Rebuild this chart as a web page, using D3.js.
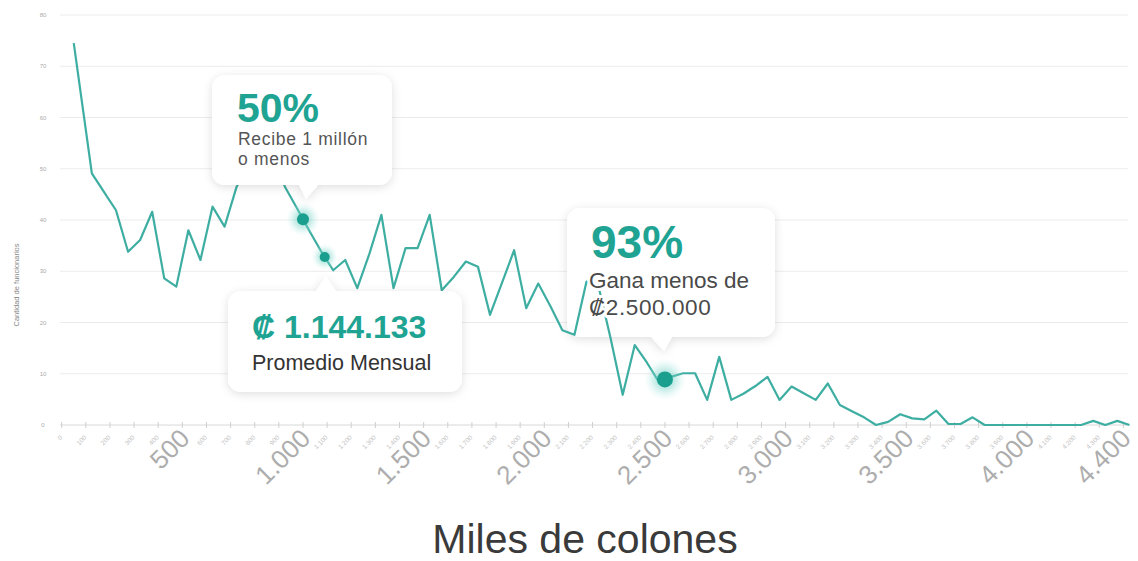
<!DOCTYPE html>
<html><head><meta charset="utf-8">
<script src="https://cdn.jsdelivr.net/npm/d3@7"></script>
<style>
html,body{margin:0;padding:0;background:#fff;}
svg{display:block;font-family:"Liberation Sans","DejaVu Sans",Arial,sans-serif;}
</style></head>
<body>
<svg id="c" width="1138" height="561"></svg>
<script>
// Salary (thousands of colones, bin midpoints) and number of employees
const salaries = [50,125,175,225,275,325,375,425,475,525,575,625,675,725,775,825,875,925,975,1025,
1075,1125,1175,1225,1275,1325,1375,1425,1475,1525,1575,1625,1675,1725,1775,1825,1875,1925,1975,2025,
2075,2125,2175,2225,2275,2325,2375,2425,2475,2525,2575,2625,2675,2725,2775,2825,2875,2925,2975,3025,
3075,3125,3175,3225,3275,3325,3375,3425,3475,3525,3575,3625,3675,3725,3775,3825,3875,3925,3975,4025,
4075,4125,4175,4225,4275,4325,4375,4425];
const employees = [74.5,49.1,45.5,41.9,33.8,36.1,41.6,28.6,27.0,38.0,32.2,42.6,38.7,46.5,51,54,52,46.5,42.3,38.0,
33.9,30.2,32.2,26.7,33.4,41.0,26.7,34.5,34.5,41.0,26.3,28.9,31.9,30.9,21.5,27.8,34.1,22.8,27.6,23.2,
18.5,17.6,28,27,16.9,5.9,15.6,12.2,8.4,9.4,10.1,10.1,4.9,13.3,4.9,6.1,7.6,9.4,4.9,7.5,
6.2,4.9,8.1,3.9,2.7,1.5,0,0.6,2.1,1.3,1.1,2.8,0.2,0.2,1.5,0,0,0,0,0,
0,0,0,0,0.8,0,0.8,0];
const yTicks = [0,10,20,30,40,50,60,70,80];
const xTicks = d3.range(0, 4401, 100);
const bigLabels = [500,1000,1500,2000,2500,3000,3500,4000,4400];
const markers = [1000, 1090, 2500];
const fmt = v => d3.format(",")(v).replace(/,/g, ".");

const svg = d3.select("#c");
const x = d3.scaleLinear().domain([0,4400]).range([61.7,1123.4]);
const y = d3.scaleLinear().domain([0,80]).range([425,15]);
const teal = "#1fa393";

const defs = svg.append("defs");
const f = defs.append("filter").attr("id","sh").attr("x","-20%").attr("y","-20%").attr("width","140%").attr("height","150%");
f.append("feDropShadow").attr("dx",0).attr("dy",2).attr("stdDeviation",5).attr("flood-color","#000").attr("flood-opacity",0.13);
const rg = defs.append("radialGradient").attr("id","glow");
rg.append("stop").attr("offset","0%").attr("stop-color","#3bbfb0").attr("stop-opacity",0.7);
rg.append("stop").attr("offset","55%").attr("stop-color","#7fd6cc").attr("stop-opacity",0.35);
rg.append("stop").attr("offset","100%").attr("stop-color","#bfeee8").attr("stop-opacity",0);

// gridlines
svg.append("g").selectAll("line").data(yTicks.filter(d=>d>0)).join("line")
  .attr("x1",60).attr("x2",1128).attr("y1",d=>y(d)).attr("y2",d=>y(d))
  .attr("stroke","#ececec").attr("stroke-width",1);
// y tick labels
svg.append("g").selectAll("text").data(yTicks).join("text")
  .attr("x",43).attr("y",d=>y(d)+2).attr("text-anchor","middle")
  .attr("font-size",6).attr("fill","#aaa").text(d=>d);
svg.append("text").attr("transform","translate(19,285) rotate(-90)")
  .attr("text-anchor","middle").attr("font-size",7.5).attr("fill","#888").text("Cantidad de funcionarios");

// x axis
svg.append("line").attr("x1",60).attr("x2",1128).attr("y1",y(0)).attr("y2",y(0)).attr("stroke","#d8d8d8");
svg.append("g").selectAll("line").data(xTicks).join("line")
  .attr("x1",d=>x(d)).attr("x2",d=>x(d)).attr("y1",y(0)-3).attr("y2",y(0)+3).attr("stroke","#cfcfcf");
svg.append("g").selectAll("text").data(xTicks.filter(d=>!bigLabels.includes(d))).join("text")
  .attr("transform",d=>`translate(${x(d)+1},${y(0)+13}) rotate(-45)`)
  .attr("text-anchor","end").attr("font-size",6.5).attr("fill","#c4c4c4").text(d=>fmt(d));
svg.append("g").selectAll("text").data(bigLabels).join("text")
  .attr("transform",d=>`translate(${x(d)+9},${y(0)+15}) rotate(-45)`)
  .attr("text-anchor","end").attr("font-size",26).attr("fill","#adadad").text(d=>fmt(d));
svg.append("text").attr("x",585).attr("y",553).attr("text-anchor","middle")
  .attr("font-size",41).attr("fill","#3a3a3a").text("Miles de colones");

function box(g, bx, by, w, h, tri){
  const p = d3.path(); const r=13;
  p.moveTo(bx+r,by);
  if(tri.side==="top"){p.lineTo(tri.a,by);p.lineTo(tri.tx,tri.ty);p.lineTo(tri.b,by);}
  p.lineTo(bx+w-r,by); p.arcTo(bx+w,by,bx+w,by+r,r);
  p.lineTo(bx+w,by+h-r); p.arcTo(bx+w,by+h,bx+w-r,by+h,r);
  if(tri.side==="bottom"){p.lineTo(tri.b,by+h);p.lineTo(tri.tx,tri.ty);p.lineTo(tri.a,by+h);}
  p.lineTo(bx+r,by+h); p.arcTo(bx,by+h,bx,by+h-r,r);
  p.lineTo(bx,by+r); p.arcTo(bx,by,bx+r,by,r); p.closePath();
  g.append("path").attr("filter","url(#sh)").attr("fill","#fff").attr("d",p.toString());
}

// box 3 background under the line
const g3 = svg.append("g");
box(g3, 567, 208, 208, 129, {side:"bottom", a:651, b:672, tx:664, ty:351});

// line
const line = d3.line().x((d,i)=>x(salaries[i])).y(d=>y(d));
svg.append("path").datum(employees).attr("d",line).attr("fill","none")
  .attr("stroke","#3daea1").attr("stroke-width",2.2).attr("stroke-linejoin","round");

// box 3 text with halo
const halo = sel => sel.attr("stroke","#fff").attr("stroke-width",6).attr("paint-order","stroke").attr("stroke-linejoin","round");
const g3t = svg.append("g");
g3t.append("text").attr("x",591).attr("y",258).attr("font-size",46).attr("font-weight","bold").attr("fill",teal).call(halo).text("93%");
g3t.append("text").attr("x",589).attr("y",288).attr("font-size",22.5).attr("fill","#4a4a4a").call(halo).text("Gana menos de");
g3t.append("text").attr("x",589).attr("y",315).attr("font-size",22.5).attr("letter-spacing",0.6).attr("fill","#4a4a4a").call(halo).text("₡2.500.000");

// box 1
const g1 = svg.append("g");
box(g1, 212, 75, 180, 110, {side:"bottom", a:299, b:318, tx:306, ty:199});
g1.append("text").attr("x",237).attr("y",122).attr("font-size",41).attr("font-weight","bold").attr("fill",teal).text("50%");
g1.append("text").attr("x",238).attr("y",145).attr("font-size",17.5).attr("letter-spacing",0.7).attr("fill","#555").text("Recibe 1 millón");
g1.append("text").attr("x",238).attr("y",165).attr("font-size",17.5).attr("letter-spacing",0.7).attr("fill","#555").text("o menos");

// box 2
const g2 = svg.append("g");
box(g2, 228, 291, 234, 101, {side:"top", a:316, b:336, tx:326, ty:276});
g2.append("text").attr("x",252).attr("y",338).attr("font-size",32).attr("font-weight","bold").attr("fill",teal).text("₡ 1.144.133");
g2.append("text").attr("x",252).attr("y",370).attr("font-size",21.5).attr("fill","#333").text("Promedio Mensual");

// markers
function interp(v){
  const i = d3.bisectLeft(salaries, v);
  const x0=salaries[i-1], x1=salaries[i];
  return employees[i-1] + (employees[i]-employees[i-1])*(v-x0)/(x1-x0);
}
const radii = [[17,6],[13,5],[21,8]];
markers.forEach((m,k)=>{
  const cx=x(m), cy=y(interp(m));
  svg.append("circle").attr("cx",cx).attr("cy",cy).attr("r",radii[k][0]).attr("fill","url(#glow)");
  svg.append("circle").attr("cx",cx).attr("cy",cy).attr("r",radii[k][1]).attr("fill","#1a9e8e");
});
</script>
</body></html>
